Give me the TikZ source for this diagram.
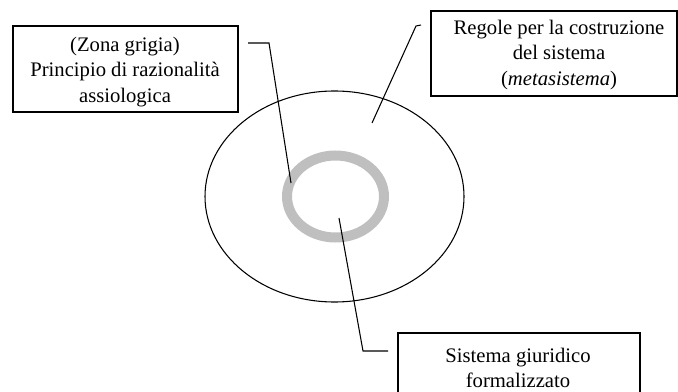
\documentclass[tikz,border=0pt]{standalone}
\usepackage{fontspec}
\setmainfont{Liberation Serif}
\usetikzlibrary{shapes.geometric}
\begin{document}
\begin{tikzpicture}[x=0.75pt,y=-0.75pt,
  box/.style={draw,line width=0.8pt,inner sep=0pt},
  lbl/.style={align=center,font=\fontsize{15.5}{19}\selectfont,inner sep=0pt},
  lead/.style={line width=0.8pt}]
\useasboundingbox (0,0) rectangle (678,392);
% boxes
\node[box,minimum width=225*0.75pt,minimum height=86*0.75pt] (lbox) at (125.5,69) {};
\node[box,minimum width=246*0.75pt,minimum height=85*0.75pt] (rbox) at (554,53.5) {};
\node[box,minimum width=242*0.75pt,minimum height=70*0.75pt] (bbox) at (519,368) {};
% texts
\node[lbl] (ltext) at (125,72) {(Zona grigia)\\Principio di razionalità\\assiologica};
\node[lbl] (rtext) at (559,55) {Regole per la costruzione\\del sistema\\(\textit{metasistema})};
\node[lbl] (btext) at (518,368) {Sistema giuridico\\formalizzato};
% ellipse and ring
\node[draw,ellipse,line width=0.8pt,minimum width=259*0.75pt,minimum height=211*0.75pt,inner sep=0pt] (outer) at (334.5,196.5) {};
\node[draw=black!25,ellipse,line width=7.5pt,minimum width=97*0.75pt,minimum height=82*0.75pt,inner sep=0pt] (ring) at (335.5,196.5) {};
% leader lines
\coordinate (l1) at (248,43);
\coordinate (l2) at (269,43);
\coordinate (l3) at (291,183);
\draw[lead] (l1) -- (l2) -- (l3);
\coordinate (r1) at (421,25);
\coordinate (r2) at (416,26);
\coordinate (r3) at (372,123);
\draw[lead] (r1) -- (r2) -- (r3);
\coordinate (b1) at (388,351);
\coordinate (b2) at (363,351);
\coordinate (b3) at (339,218);
\draw[lead] (b1) -- (b2) -- (b3);
\end{tikzpicture}
\end{document}
